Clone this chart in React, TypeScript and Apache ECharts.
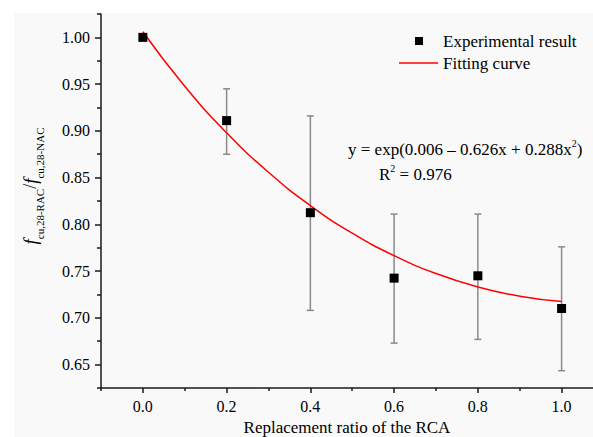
import React, { useEffect, useRef } from "react";
import * as echarts from "echarts";

const ratios = [0.0, 0.2, 0.4, 0.6, 0.8, 1.0];
const experimental = [1.0, 0.911, 0.8125, 0.7425, 0.745, 0.71];
const errLow = [1.0, 0.875, 0.708, 0.673, 0.677, 0.6435];
const errHigh = [1.0, 0.945, 0.916, 0.811, 0.811, 0.776];

const curveX = [0.0, 0.1, 0.2, 0.3, 0.4, 0.5, 0.6, 0.7, 0.8, 0.9, 1.0];
const curveY = [1.006, 0.9477, 0.8979, 0.8557, 0.8201, 0.7906, 0.7665, 0.7474, 0.7331, 0.7232, 0.7175];

const xMajorTicks = [0.0, 0.2, 0.4, 0.6, 0.8, 1.0];
const xMinorTicks = [-0.1, 0.1, 0.3, 0.5, 0.7, 0.9];
const yMajorTicks = [0.65, 0.7, 0.75, 0.8, 0.85, 0.9, 0.95, 1.0];
const yMinorTicks = [0.625, 0.675, 0.725, 0.775, 0.825, 0.875, 0.925, 0.975, 1.025];

const FONT = "'Liberation Serif', 'Times New Roman', serif";

export default function App() {
  const ref = useRef<HTMLDivElement>(null);
  useEffect(() => {
    if (!ref.current) return;
    const chart = echarts.init(ref.current, null, { renderer: "svg" });
    const axisLineStyle = { color: "#1a1a1a", width: 1.5 };
    const xCommon = {
      type: "value",
      min: -0.1,
      max: 1.075,
      splitLine: { show: false },
    };
    const yCommon = {
      type: "value",
      min: 0.625,
      max: 1.025,
      splitLine: { show: false },
    };
    chart.setOption({
      animation: false,
      backgroundColor: "#ffffff",
      grid: { left: 101, top: 14, right: 0, bottom: 49, containLabel: false, outerBoundsMode: "none" },
      xAxis: [
        {
          ...xCommon,
          position: "bottom",
          name: "Replacement ratio of the RCA",
          nameLocation: "middle",
          nameGap: 28,
          nameTextStyle: { fontFamily: FONT, fontSize: 17, color: "#000" },
          axisLine: { show: true, onZero: false, lineStyle: axisLineStyle },
          axisTick: { show: true, inside: false, length: 5, customValues: xMajorTicks, lineStyle: axisLineStyle },
          axisLabel: {
            show: true,
            customValues: xMajorTicks,
            margin: 10,
            fontFamily: FONT,
            fontSize: 16,
            color: "#000",
            formatter: (v: number) => v.toFixed(1),
          },
        },
        {
          ...xCommon,
          position: "bottom",
          axisLine: { show: false, onZero: false },
          axisTick: { show: true, inside: false, length: 3, customValues: xMinorTicks, lineStyle: axisLineStyle },
          axisLabel: { show: false },
        },
      ],
      yAxis: [
        {
          ...yCommon,
          position: "left",
          axisLine: { show: true, onZero: false, lineStyle: axisLineStyle },
          axisTick: { show: true, inside: false, length: 6, customValues: yMajorTicks, lineStyle: axisLineStyle },
          axisLabel: {
            show: true,
            customValues: yMajorTicks,
            margin: 11,
            fontFamily: FONT,
            fontSize: 16,
            color: "#000",
            formatter: (v: number) => v.toFixed(2),
          },
        },
        {
          ...yCommon,
          position: "left",
          axisLine: { show: false, onZero: false },
          axisTick: { show: true, inside: false, length: 4, customValues: yMinorTicks, lineStyle: axisLineStyle },
          axisLabel: { show: false },
        },
      ],
      series: [
        {
          name: "Error bars",
          type: "custom",
          xAxisIndex: 0,
          yAxisIndex: 0,
          data: ratios.map((x, i) => [x, errLow[i], errHigh[i]]),
          renderItem: (params: any, api: any) => {
            const x = api.value(0);
            const lo = api.coord([x, api.value(1)]);
            const hi = api.coord([x, api.value(2)]);
            if (Math.abs(lo[1] - hi[1]) < 0.5) return { type: "group", children: [] };
            const style = { stroke: "#8a8a8a", lineWidth: 1.5 };
            const w = 3.5;
            return {
              type: "group",
              children: [
                { type: "line", shape: { x1: lo[0], y1: lo[1], x2: hi[0], y2: hi[1] }, style },
                { type: "line", shape: { x1: hi[0] - w, y1: hi[1], x2: hi[0] + w, y2: hi[1] }, style },
                { type: "line", shape: { x1: lo[0] - w, y1: lo[1], x2: lo[0] + w, y2: lo[1] }, style },
              ],
            };
          },
          z: 2,
        },
        {
          name: "Fitting curve",
          type: "line",
          xAxisIndex: 0,
          yAxisIndex: 0,
          data: curveX.map((x, i) => [x, curveY[i]]),
          smooth: true,
          showSymbol: false,
          lineStyle: { color: "#ff0000", width: 1.5 },
          itemStyle: { color: "#ff0000" },
          z: 3,
        },
        {
          name: "Experimental result",
          type: "scatter",
          xAxisIndex: 0,
          yAxisIndex: 0,
          data: ratios.map((x, i) => [x, experimental[i]]),
          symbol: "rect",
          symbolSize: 9,
          itemStyle: { color: "#000000", opacity: 1 },
          z: 4,
        },
      ],
      graphic: [
        {
          type: "rect",
          silent: true,
          z: -100,
          shape: { x: 14, y: 13, width: 579, height: 424 },
          style: { fill: "#f9f9f9" },
        },
        {
          type: "rect",
          shape: { x: 415, y: 37, width: 8, height: 8 },
          style: { fill: "#000" },
        },
        {
          type: "text",
          x: 443,
          y: 41,
          style: { text: "Experimental result", fontFamily: FONT, fontSize: 17, fill: "#000", verticalAlign: "middle", align: "left" },
        },
        {
          type: "line",
          shape: { x1: 399, y1: 63, x2: 438, y2: 63 },
          style: { stroke: "#ff0000", lineWidth: 1.5 },
        },
        {
          type: "text",
          x: 443,
          y: 63,
          style: { text: "Fitting curve", fontFamily: FONT, fontSize: 17, fill: "#000", verticalAlign: "middle", align: "left" },
        },
        {
          type: "text",
          x: 348,
          y: 148,
          style: {
            text: "{m|y = exp(0.006 – 0.626x + 0.288x}{s|2}{m|)}",
            verticalAlign: "middle",
            align: "left",
            rich: {
              m: { fontFamily: FONT, fontSize: 17, fill: "#000", lineHeight: 20, verticalAlign: "bottom" },
              s: { fontFamily: FONT, fontSize: 10, fill: "#000", lineHeight: 20, verticalAlign: "top" },
            },
          },
        },
        {
          type: "text",
          x: 379,
          y: 173,
          style: {
            text: "{m|R}{s|2}{m| = 0.976}",
            verticalAlign: "middle",
            align: "left",
            rich: {
              m: { fontFamily: FONT, fontSize: 17, fill: "#000", lineHeight: 20, verticalAlign: "bottom" },
              s: { fontFamily: FONT, fontSize: 10, fill: "#000", lineHeight: 20, verticalAlign: "top" },
            },
          },
        },
        {
          type: "text",
          x: 33,
          y: 186,
          rotation: Math.PI / 2,
          style: {
            text: "{f|f}{s|cu,28-RAC}{n|/}{f|f}{s|cu,28-NAC}",
            align: "center",
            verticalAlign: "middle",
            rich: {
              f: { fontFamily: FONT, fontSize: 19, fontStyle: "italic", fill: "#000", lineHeight: 24, verticalAlign: "top" },
              n: { fontFamily: FONT, fontSize: 18, fill: "#000", lineHeight: 24, verticalAlign: "top" },
              s: { fontFamily: FONT, fontSize: 11, fill: "#000", lineHeight: 24, verticalAlign: "bottom" },
            },
          },
        },
      ],
    });
    return () => chart.dispose();
  }, []);
  return (
    <div
      ref={ref}
      style={{ position: "fixed", left: 0, top: 0, width: 593, height: 437 }}
    />
  );
}
